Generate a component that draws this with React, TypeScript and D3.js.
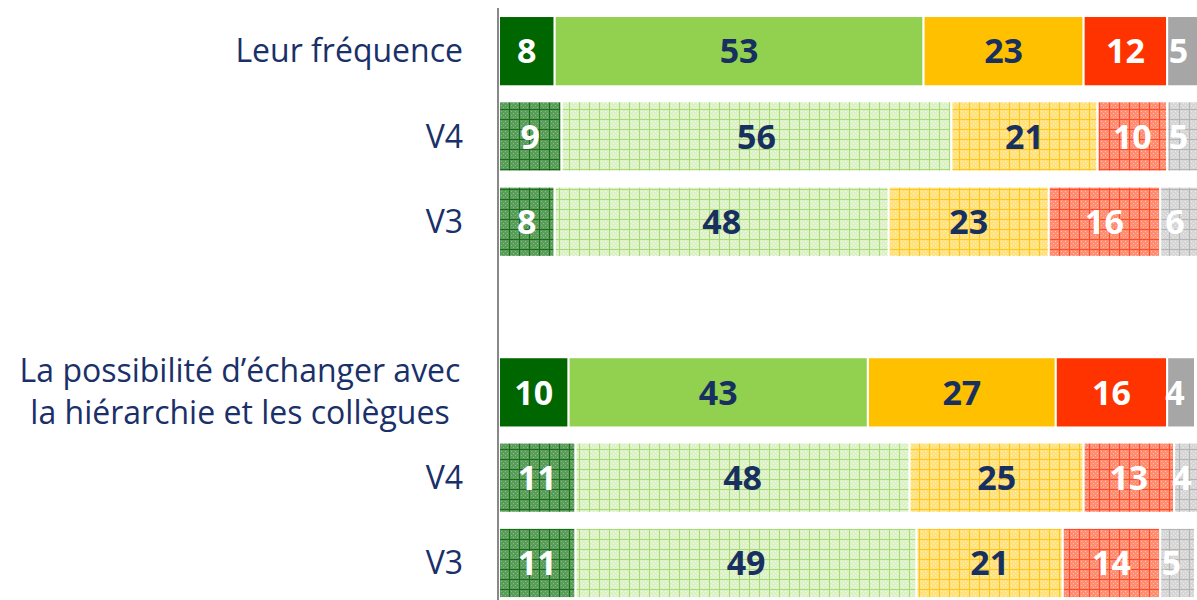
import React from "react";
import * as d3 from "d3";

const rowKeys = ["r1", "r2", "r3", "gap", "r4", "r5", "r6"];
const rowLabels = ["Leur fréquence", "V4", "V3", "", "", "V4", "V3"];
const groupLabel2 = ["La possibilité d’échanger avec", "la hiérarchie et les collègues"];
const rowPatterned = [false, true, true, false, false, true, true];
const segTresSatisfait = [8, 9, 8, 0, 10, 11, 11];
const segSatisfait = [53, 56, 48, 0, 43, 48, 49];
const segPeuSatisfait = [23, 21, 23, 0, 27, 25, 21];
const segPasSatisfait = [12, 10, 16, 0, 16, 13, 14];
const segNsp = [5, 5, 6, 0, 4, 4, 5];

const series = [segTresSatisfait, segSatisfait, segPeuSatisfait, segPasSatisfait, segNsp];
const solidColors = ["#006600", "#92D050", "#FFC000", "#FF3300", "#A6A6A6"];
const patBg = ["#5a9c5a", "#dcf1c5", "#ffe17e", "#ff8d72", "#d6d6d6"];
const patLine = ["#1a6c1a", "#a8da76", "#ffc61e", "#ff4b28", "#b4b4b4"];
const patDot = ["#88bd88", "#f3fbea", "#fff0c0", "#ffbfae", "#ededed"];
const textColors = ["#ffffff", "#17305f", "#17305f", "#ffffff", "#ffffff"];

const W = 1197;
const H = 600;

export default function App() {
  const x = d3.scaleLinear().domain([0, 100]).range([499, 1195]);
  const y = d3
    .scaleBand<string>()
    .domain(rowKeys)
    .range([8.5, 8.5 + 7 * 85.3])
    .paddingInner(0.1765)
    .paddingOuter(0.0882);

  const rows = rowKeys.map((k, i) => {
    const vals = series.map((s) => s[i]);
    let acc = 0;
    const segs = vals.map((v, j) => {
      const s = { j, v, x0: acc, x1: acc + v };
      acc += v;
      return s;
    });
    return { k, i, segs };
  });

  const labelColor = "#1a3068";
  const font = "'Open Sans', 'Noto Sans', sans-serif";

  return (
    <svg width={W} height={H} style={{ position: "absolute", left: 0, top: 0 }}>
      <defs>
        <clipPath id="clip">
          <rect x={0} y={0} width={W} height={H} />
        </clipPath>
        {solidColors.map((c, j) => (
          <pattern key={j} id={`pat${j}`} width={10} height={10} patternUnits="userSpaceOnUse">
            <rect width={10} height={10} fill={patBg[j]} />
            <rect x={1} y={1} width={1} height={1} fill={patDot[j]} />
            <rect x={3} y={3} width={1} height={1} fill={patDot[j]} />
            <rect x={5} y={1} width={1} height={1} fill={patDot[j]} />
            <rect x={7} y={3} width={1} height={1} fill={patDot[j]} />
            <rect x={1} y={5} width={1} height={1} fill={patDot[j]} />
            <rect x={3} y={7} width={1} height={1} fill={patDot[j]} />
            <rect x={5} y={5} width={1} height={1} fill={patDot[j]} />
            <rect x={7} y={7} width={1} height={1} fill={patDot[j]} />
            <rect x={9} y={0} width={1} height={10} fill={patLine[j]} />
            <rect x={0} y={9} width={10} height={1} fill={patLine[j]} />
          </pattern>
        ))}
      </defs>
      <g clipPath="url(#clip)">
        {rows
          .filter((r) => r.k !== "gap")
          .map((r) => {
            const y0 = y(r.k) as number;
            const bh = y.bandwidth();
            return (
              <g key={r.k}>
                {r.segs.map((s) => (
                  <rect
                    key={s.j}
                    x={x(s.x0)}
                    y={y0}
                    width={x(s.x1) - x(s.x0)}
                    height={bh}
                    fill={rowPatterned[r.i] ? `url(#pat${s.j})` : solidColors[s.j]}
                    stroke="#ffffff"
                    strokeWidth={2}
                  />
                ))}
                {r.segs.map((s) => (
                  <text
                    key={"t" + s.j}
                    x={(x(s.x0) + x(s.x1)) / 2 - (s.j === 4 ? 6 : 0)}
                    y={y0 + bh / 2}
                    dy="0.36em"
                    textAnchor="middle"
                    fontFamily={font}
                    fontWeight={700}
                    fontSize={34}
                    fill={textColors[s.j]}
                  >
                    {s.v}
                  </text>
                ))}
              </g>
            );
          })}
      </g>
      <line x1={498} x2={498} y1={8} y2={600} stroke="#888888" strokeWidth={2} />
      {rows.map((r) =>
        rowLabels[r.i] ? (
          <text
            key={"l" + r.k}
            x={463}
            y={(y(r.k) as number) + y.bandwidth() / 2}
            dy="0.35em"
            textAnchor="end"
            fontFamily={font}
            fontSize={32}
            fill={labelColor}
          >
            {rowLabels[r.i]}
          </text>
        ) : null
      )}
      {groupLabel2.map((t, i) => (
        <text
          key={"g" + i}
          x={240}
          y={(y("r4") as number) + 14 + i * 42}
          dy="0.35em"
          textAnchor="middle"
          fontFamily={font}
          fontSize={32}
          fill={labelColor}
        >
          {t}
        </text>
      ))}
    </svg>
  );
}
